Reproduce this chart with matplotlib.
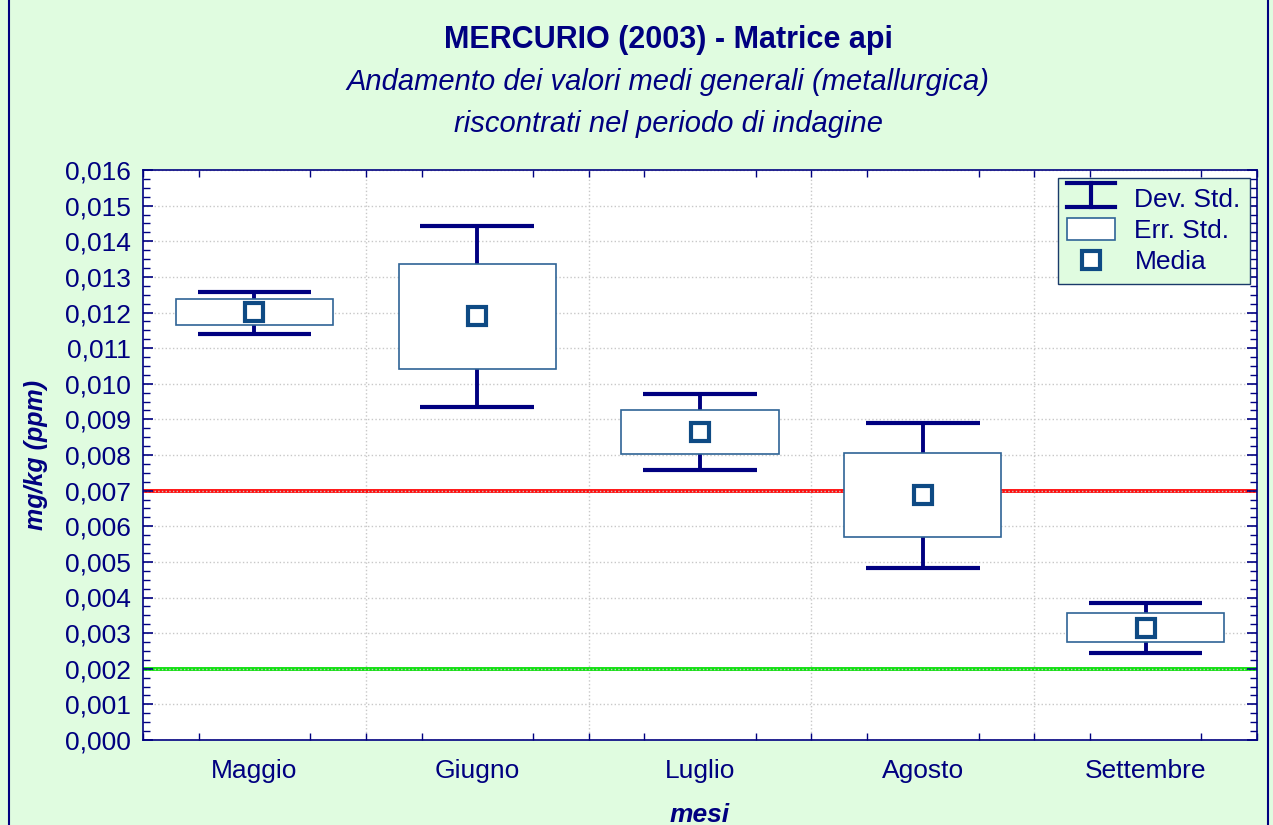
import matplotlib.pyplot as plt
import matplotlib.patches as mpatches
from matplotlib.lines import Line2D
from matplotlib.legend_handler import HandlerBase
from matplotlib.ticker import MultipleLocator, FuncFormatter
import numpy as np

plt.rcParams['font.family'] = ['Liberation Sans', 'DejaVu Sans']

mesi = ["Maggio", "Giugno", "Luglio", "Agosto", "Settembre"]
media = [0.01201, 0.01190, 0.00865, 0.00688, 0.00314]
err_hi = [0.01238, 0.01336, 0.00926, 0.00806, 0.00356]
err_lo = [0.01165, 0.01041, 0.00803, 0.00570, 0.00275]
dev_hi = [0.01258, 0.01443, 0.00971, 0.00890, 0.00385]
dev_lo = [0.01140, 0.00935, 0.00758, 0.00483, 0.00244]
limite_alto = 0.007
limite_basso = 0.002

navy = "#000080"
box_col = "#2F6496"
mark_col = "#0E4A84"
bg = "#E0FCE0"

fig = plt.figure(figsize=(12.73, 8.25), dpi=100, facecolor=bg)
ax = fig.add_axes([143 / 1273, 1 - 740 / 825, 1114 / 1273, 570 / 825])
ax.set_facecolor("white")

x = np.arange(len(mesi))
half_cap = 0.255

# whiskers (dev. std.) behind the boxes
ax.vlines(x, dev_lo, dev_hi, color=navy, lw=2.8, zorder=2)
ax.hlines(dev_hi, x - half_cap, x + half_cap, color=navy, lw=3, zorder=2)
ax.hlines(dev_lo, x - half_cap, x + half_cap, color=navy, lw=3, zorder=2)

# boxes (err. std.)
ax.bar(x, np.array(err_hi) - np.array(err_lo), bottom=err_lo, width=0.705,
       facecolor="white", edgecolor=box_col, lw=1.2, zorder=3)

# means
ax.plot(x, media, ls="none", marker="s", ms=13, mfc="white", mec=mark_col,
        mew=3, zorder=4)

ax.axhline(limite_alto, color="#FF1010", lw=2.8, zorder=1.5)
ax.axhline(limite_basso, color="#10E010", lw=2.8, zorder=1.5)

ax.yaxis.set_major_locator(MultipleLocator(0.001))
ax.yaxis.set_minor_locator(MultipleLocator(0.00025))
ax.yaxis.set_major_formatter(FuncFormatter(lambda v, p: f"{v:.3f}".replace(".", ",")))
ax.set_xticks(x)
ax.set_xticklabels(mesi)
ax.set_xticks(np.arange(-0.5, len(mesi), 0.25), minor=True)
ax.set_xlim(-0.5, len(mesi) - 0.5)
ax.set_ylim(0, 0.016)

ax.grid(True, which="major", axis="y", color="#C8C8C8", ls=":", lw=1)
for b in np.arange(0.5, len(mesi) - 0.5, 1.0):
    ax.axvline(b, color="#C8C8C8", ls=":", lw=1, zorder=0.5)

ax.tick_params(which="both", direction="in", colors=navy, labelcolor=navy,
               labelsize=19, top=True, right=True)
ax.tick_params(axis="x", which="major", length=0, pad=14)
ax.tick_params(axis="y", which="major", length=7, width=1.2, pad=9)
ax.tick_params(which="minor", length=5, width=1)
for s in ax.spines.values():
    s.set_color(navy)
    s.set_linewidth(1.2)

ax.set_ylabel("mg/kg (ppm)", fontsize=18, fontweight="bold", style="italic",
              color=navy, labelpad=12)
ax.set_xlabel("mesi", fontsize=19, fontweight="bold", style="italic",
              color=navy, labelpad=14)

cx = 668 / 1273
fig.text(cx, 1 - 40 / 825, "MERCURIO (2003) - Matrice api", ha="center",
         va="center", fontsize=22, fontweight="bold", color=navy)
fig.text(cx, 1 - 82 / 825, "Andamento dei valori medi generali (metallurgica)",
         ha="center", va="center", fontsize=21, style="italic", color=navy)
fig.text(cx, 1 - 124 / 825, "riscontrati nel periodo di indagine",
         ha="center", va="center", fontsize=21, style="italic", color=navy)

fig.patches.append(mpatches.Rectangle((9 / 1273, -0.01), 1259 / 1273, 1.02,
                                      transform=fig.transFigure, fill=False,
                                      edgecolor=navy, lw=1.5))


class HandlerDev(HandlerBase):
    def create_artists(self, legend, orig, xd, yd, w, h, fontsize, trans):
        mid = xd + w / 2
        top = yd + h * 1.05
        bot = yd - h * 0.05
        l1 = Line2D([xd, xd + w], [top, top], color=navy, lw=3, transform=trans)
        l2 = Line2D([xd, xd + w], [bot, bot], color=navy, lw=3, transform=trans)
        l3 = Line2D([mid, mid], [bot, top], color=navy, lw=3, transform=trans)
        return [l1, l2, l3]


dev_handle = mpatches.Patch(label="Dev. Std.")
err_handle = mpatches.Patch(facecolor="white", edgecolor=box_col, lw=1.2, label="Err. Std.")
med_handle = Line2D([], [], ls="none", marker="s", ms=13, mfc="white", mec=mark_col,
                    mew=3, label="Media")
leg = ax.legend(handles=[dev_handle, err_handle, med_handle],
                handler_map={dev_handle: HandlerDev()},
                loc="upper right", bbox_to_anchor=(0.9937, 0.986), borderaxespad=0,
                fontsize=19, frameon=True, fancybox=False, facecolor=bg,
                edgecolor="#1A3A6A", framealpha=1, handlelength=1.8,
                handleheight=0.85, handletextpad=0.75, labelspacing=0.25,
                borderpad=0.35)
for t in leg.get_texts():
    t.set_color(navy)
leg.get_frame().set_linewidth(1)

fig.savefig("out.png", dpi=100, facecolor=bg)
